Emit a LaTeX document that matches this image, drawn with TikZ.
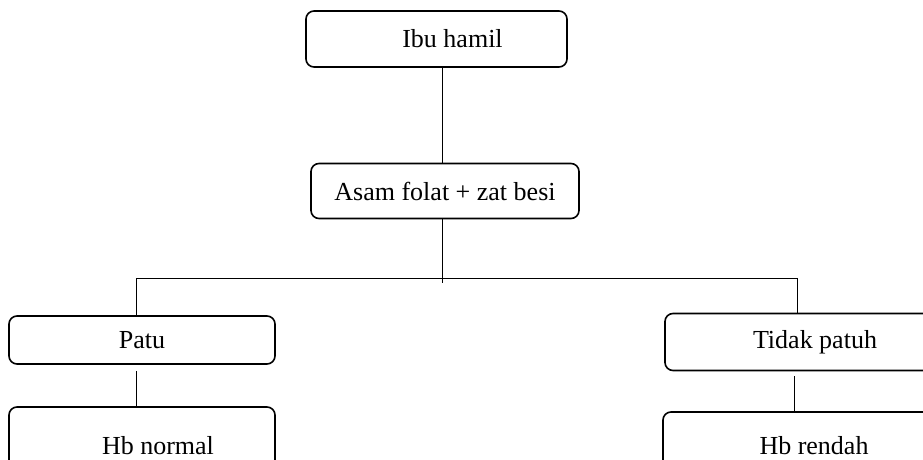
\documentclass[tikz,border=0pt]{standalone}
\usepackage{fontspec}
\setmainfont{Liberation Serif}
\begin{document}
\begin{tikzpicture}[x=1pt,y=-1pt,
  box/.style={draw, line width=1.6pt, rounded corners=8pt, inner sep=0pt,
    font=\fontsize{26}{30}\selectfont},
  conn/.style={line width=1pt}]
\useasboundingbox (0,0) rectangle (923,460);
\clip (0,0) rectangle (923,460);
\node[box, minimum width=261pt, minimum height=56pt] (ibu) at (436.5,39) {\hspace*{32pt}Ibu hamil};
\node[box, minimum width=268pt, minimum height=55pt] (asam) at (445,191) {Asam folat + zat besi};
\node[box, minimum width=266pt, minimum height=48pt] (patu) at (142,340) {Patu};
\node[box, minimum width=300pt, minimum height=57pt] (tidak) at (815,342) {Tidak patuh};
\node[box, minimum width=266pt, minimum height=78pt] (hbn) at (142,446) {\hspace*{32pt}Hb normal};
\node[box, minimum width=302pt, minimum height=68pt] (hbr) at (814,446) {Hb rendah};
\coordinate (j) at (442,278);
\coordinate (jl) at (136,278);
\coordinate (jr) at (797,278);
\coordinate (kr) at (794,0);
\draw[conn] (ibu.south -| j) -- (asam.north -| j);
\draw[conn] (asam.south -| j) -- ([yshift=-5pt]j);
\draw[conn] (patu.north -| jl) -- (jl) -- (jr) -- (tidak.north -| jr);
\draw[conn] ([yshift=-6pt]patu.south -| jl) -- (hbn.north -| jl);
\draw[conn] ([yshift=-5pt]tidak.south -| kr) -- (hbr.north -| kr);
\end{tikzpicture}
\end{document}
